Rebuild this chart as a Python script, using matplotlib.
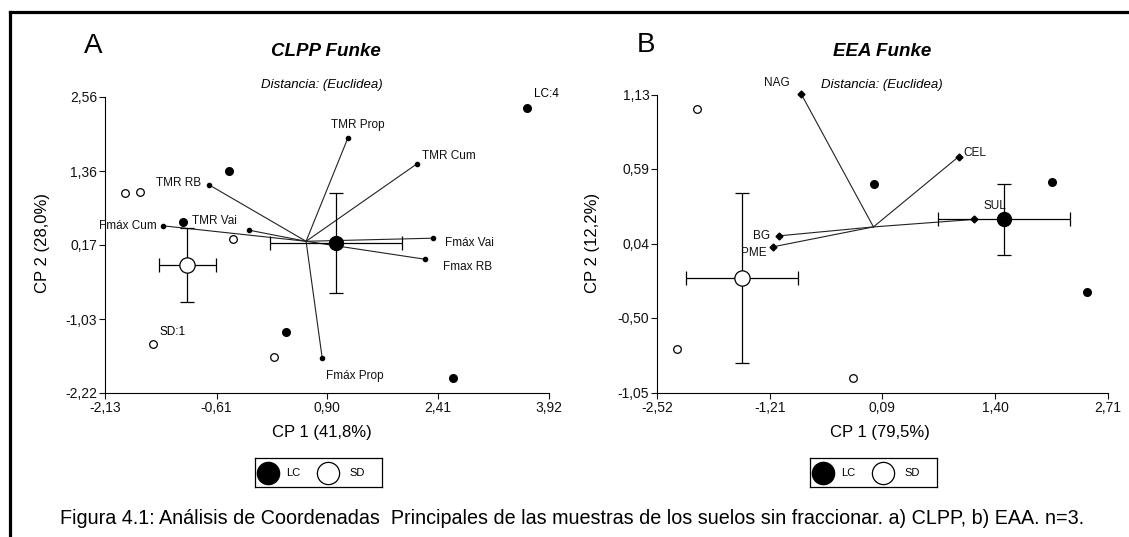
import matplotlib.pyplot as plt
from matplotlib.lines import Line2D

plt.rcParams['font.family'] = ['Liberation Sans', 'DejaVu Sans']

W, H = 1129, 537

# ---- panel A: CLPP Funke ----
a_xticks = [-2.13, -0.61, 0.90, 2.41, 3.92]
a_yticks = [-2.22, -1.03, 0.17, 1.36, 2.56]
a_lc_x = [3.62, -0.44, -1.07, 0.34, 2.61]
a_lc_y = [2.38, 1.36, 0.54, -1.24, -1.98]
a_sd_x = [-1.86, -1.65, -0.39, -1.48, 0.17]
a_sd_y = [1.01, 1.03, 0.27, -1.43, -1.64]
a_mean_x = [1.02, -1.01]      # LC, SD
a_mean_y = [0.20, -0.15]
a_err_x = [0.90, 0.39]
a_err_y = [0.81, 0.60]
a_origin = (0.61, 0.23)
a_vars = ["TMR Prop", "TMR Cum", "TMR RB", "Fmáx Cum", "TMR Vai",
          "Fmáx Vai", "Fmax RB", "Fmáx Prop"]
a_var_x = [1.18, 2.12, -0.71, -1.34, -0.17, 2.34, 2.23, 0.83]
a_var_y = [1.90, 1.48, 1.14, 0.48, 0.41, 0.28, -0.06, -1.66]

# ---- panel B: EEA Funke ----
b_xticks = [-2.52, -1.21, 0.09, 1.40, 2.71]
b_yticks = [-1.05, -0.50, 0.04, 0.59, 1.13]
b_lc_x = [0.00, 2.06, 2.47]
b_lc_y = [0.48, 0.49, -0.31]
b_sd_x = [-2.06, -2.29, -0.25]
b_sd_y = [1.03, -0.73, -0.94]
b_mean_x = [1.505, -1.53]
b_mean_y = [0.22, -0.21]
b_err_x = [0.77, 0.65]
b_err_y = [0.26, 0.62]
b_origin = (-0.01, 0.165)
b_vars = ["NAG", "CEL", "SUL", "BG", "PME"]
b_var_x = [-0.85, 0.98, 1.16, -1.10, -1.17]
b_var_y = [1.14, 0.68, 0.22, 0.10, 0.02]

caption = ("Figura 4.1: Análisis de Coordenadas  Principales de las muestras de los "
           "suelos sin fraccionar. a) CLPP, b) EAA. n=3.")

fig = plt.figure(figsize=(W / 100, H / 100), dpi=100)


def px_axes(x0, x1, y0, y1):
    return fig.add_axes([x0 / W, 1 - y1 / H, (x1 - x0) / W, (y1 - y0) / H])


def ftext(x, y, s, **kw):
    fig.text(x / W, 1 - y / H, s, **kw)


def fmt(v):
    return f"{v:.2f}".replace(".", ",")


def panel(ax, xt, yt, lc_x, lc_y, sd_x, sd_y, mx, my, ex, ey, origin,
          names, vx, vy, offsets, tip):
    ax.set_xlim(xt[0], xt[-1])
    ax.set_ylim(yt[0], yt[-1])
    ax.patch.set_visible(False)
    for s in ("top", "right"):
        ax.spines[s].set_visible(False)
    for s in ("left", "bottom"):
        ax.spines[s].set_linewidth(0.8)
    ax.set_xticks(xt, [fmt(v) for v in xt])
    ax.set_yticks(yt, [fmt(v) for v in yt])
    ax.tick_params(length=4, width=0.8, labelsize=10, pad=1.5, colors="#111")

    # biplot vectors
    for name, x, y, off in zip(names, vx, vy, offsets):
        ax.plot([origin[0], x], [origin[1], y], color="#222", lw=0.8,
                clip_on=False, zorder=2)
        ax.plot(x, y, marker=tip[0], ms=tip[1], color="black",
                clip_on=False, zorder=3)
        ax.annotate(name, (x, y), xytext=off[:2], textcoords="offset pixels",
                    ha=off[2], va="center", fontsize=8.5, color="#111",
                    annotation_clip=False)

    # samples
    ax.plot(lc_x, lc_y, "o", ms=5.5, color="black", clip_on=False, zorder=4)
    ax.plot(sd_x, sd_y, "o", ms=5.5, mfc="white", mec="black", mew=0.9,
            clip_on=False, zorder=4)

    # group means with error bars
    ax.errorbar(mx, my, xerr=ex, yerr=ey, fmt="none", ecolor="black",
                elinewidth=0.9, capsize=4.7, capthick=0.9, clip_on=False,
                zorder=5)
    ax.plot(mx[0], my[0], "o", ms=10, color="black", clip_on=False, zorder=6)
    ax.plot(mx[1], my[1], "o", ms=11, mfc="white", mec="black", mew=0.9,
            clip_on=False, zorder=6)


def legend_box(x0):
    lax = px_axes(x0, x0 + 127, 458, 487)
    lax.set_xlim(0, 127)
    lax.set_ylim(0, 29)
    lax.set_xticks([])
    lax.set_yticks([])
    for s in lax.spines.values():
        s.set_linewidth(0.9)
    lax.add_line(Line2D([13], [14.5], marker="o", ms=16, color="black"))
    lax.add_line(Line2D([73], [14.5], marker="o", ms=16, mfc="white",
                        mec="black", mew=0.9))
    lax.text(38, 14.5, "LC", fontsize=8, ha="center", va="center")
    lax.text(102, 14.5, "SD", fontsize=8, ha="center", va="center")


axA = px_axes(105, 549, 97, 393)
a_offsets = [(10, 13, "center"), (5, 8, "left"), (-8, 2, "right"),
             (-6, 0, "right"), (-12, 9, "right"), (12, -5, "left"),
             (18, -8, "left"), (4, -18, "left")]
panel(axA, a_xticks, a_yticks, a_lc_x, a_lc_y, a_sd_x, a_sd_y, a_mean_x,
      a_mean_y, a_err_x, a_err_y, a_origin, a_vars, a_var_x, a_var_y,
      a_offsets, ("o", 3))
axA.annotate("LC:4", (a_lc_x[0], a_lc_y[0]), xytext=(7, 14),
             textcoords="offset pixels", ha="left", va="center", fontsize=8.5)
axA.annotate("SD:1", (a_sd_x[3], a_sd_y[3]), xytext=(7, 12),
             textcoords="offset pixels", ha="left", va="center", fontsize=8.5)

axB = px_axes(657, 1108, 95, 393)
b_offsets = [(-11, 11, "right"), (5, 4, "left"), (9, 13, "left"),
             (-9, 0, "right"), (-7, -6, "right")]
panel(axB, b_xticks, b_yticks, b_lc_x, b_lc_y, b_sd_x, b_sd_y, b_mean_x,
      b_mean_y, b_err_x, b_err_y, b_origin, b_vars, b_var_x, b_var_y,
      b_offsets, ("D", 3.5))

# titles and labels
ftext(93, 46, "A", fontsize=20, ha="center", va="center")
ftext(646, 45, "B", fontsize=20, ha="center", va="center")
ftext(326, 52, "CLPP Funke", fontsize=13.5, fontweight="bold",
      fontstyle="italic", ha="center", va="center")
ftext(882, 52, "EEA Funke", fontsize=13.5, fontweight="bold",
      fontstyle="italic", ha="center", va="center")
for xc in (322, 882):
    ftext(xc, 85, "Distancia: (Euclidea)", fontsize=9.5, fontstyle="italic",
          ha="center", va="center")
ftext(322, 433, "CP 1 (41,8%)", fontsize=12, ha="center", va="center")
ftext(880, 433, "CP 1 (79,5%)", fontsize=12, ha="center", va="center")
ftext(43, 243, "CP 2 (28,0%)", fontsize=12, rotation=90, ha="center",
      va="center")
ftext(592, 243, "CP 2 (12,2%)", fontsize=12, rotation=90, ha="center",
      va="center")

legend_box(255)
legend_box(810)

ftext(572, 519, caption, fontsize=14.2, ha="center", va="center")

# outer frame (top and left edges)
fig.add_artist(Line2D([10 / W, 1], [1 - 12 / H, 1 - 12 / H], lw=2.3,
                      color="black", transform=fig.transFigure))
fig.add_artist(Line2D([10 / W, 10 / W], [1 - 12 / H, 0], lw=2.3,
                      color="black", transform=fig.transFigure))

fig.savefig("out.png", dpi=100)
